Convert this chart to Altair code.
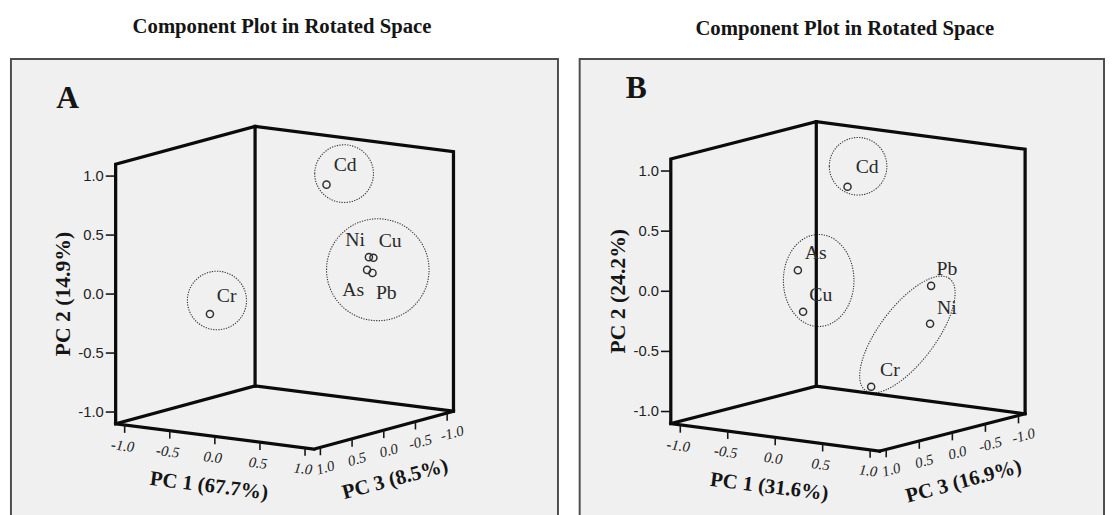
import altair as alt
import pandas as pd

# ---------------- values ----------------
ELEMENTS_A = ["Cd", "Cr", "Ni", "Cu", "As", "Pb"]
PC1_A = [0.50, -0.16, 0.90, 0.95, 0.88, 0.94]
PC2_A = [0.93, -0.10, 0.34, 0.34, 0.23, 0.21]
PC3_A = [0.05, 0.95, -0.05, -0.05, -0.05, -0.05]

ELEMENTS_B = ["Cd", "As", "Cu", "Pb", "Ni", "Cr"]
PC1_B = [0.10, 0.03, 0.05, 0.89, 0.90, 0.60]
PC2_B = [0.86, 0.25, -0.10, 0.10, -0.21, -0.70]
PC3_B = [0.15, 0.80, 0.75, 0.02, 0.05, 0.51]

AXIS_TITLES_A = ["PC 1 (67.7%)", "PC 2 (14.9%)", "PC 3 (8.5%)"]
AXIS_TITLES_B = ["PC 1 (31.6%)", "PC 2 (24.2%)", "PC 3 (16.9%)"]
TICK_VALUES = [-1.0, -0.5, 0.0, 0.5, 1.0]
TICK_LABELS = ["-1.0", "-0.5", "0.0", "0.5", "1.0"]
AXIS_LIMIT = 1.1
TITLE = "Component Plot in Rotated Space"
LETTERS = ["A", "B"]

# ---------------- style / projection settings ----------------
SERIF = "Liberation Serif"
SANS = "Liberation Sans"
INK = "#151515"

PROJ_A = dict(a1=91.5, a3=-64.3, b1=11.65, b2=119.7, b3=17.45,
              width=555, height=466, xdom=[-277.6, 277.4], ydom=[-233.9, 232.1])
PROJ_B = dict(a1=96.3, a3=-67.1, b1=12.7, b2=122.0, b3=17.2,
              width=532, height=466, xdom=[-272.2, 259.8], ydom=[-235.3, 230.7])

# group ellipses (annotation, in plane units): centre x, centre y, semi-major, semi-minor, angle
ELLIPSES_A = [(60.4, 115.8, 29.8, 29.3, 0), (94.6, 18.3, 52.0, 51.7, 0), (-68.6, -12.9, 30.0, 29.7, 0)]
ELLIPSES_B = [(10.3, 121.9, 29.2, 29.2, 0), (-29.7, 6.0, 46.7, 35.8, 90), (60.3, -48.8, 71.0, 28.5, 127)]

LABEL_OFFSETS_A = {"Cd": (19, -20), "Cr": (17, -18), "Ni": (-14, -17), "Cu": (17, -17),
                   "As": (-14, 20), "Pb": (14, 20)}
LABEL_OFFSETS_B = {"Cd": (20, -20), "As": (18, -17), "Cu": (18, -17), "Pb": (16, -17),
                   "Ni": (17, -16), "Cr": (19, -17)}


def ellipse_path(r):
    k = 0.5523
    return (f"M -1 0 C -1 {-k*r:.4f} {-k} {-r:.4f} 0 {-r:.4f} "
            f"C {k} {-r:.4f} 1 {-k*r:.4f} 1 0 "
            f"C 1 {k*r:.4f} {k} {r:.4f} 0 {r:.4f} "
            f"C {-k} {r:.4f} -1 {k*r:.4f} -1 0 Z")


def panel(elements, p1, p2, p3, axis_titles, letter, P, ellipses, offsets,
          title_dx, title_offset, letter_xy):
    xs = alt.Scale(domain=P["xdom"], nice=False, zero=False)
    ys = alt.Scale(domain=P["ydom"], nice=False, zero=False)

    def X(f):
        return alt.X(f"{f}:Q", scale=xs, axis=None)

    def Y(f):
        return alt.Y(f"{f}:Q", scale=ys, axis=None)

    def proj():
        return dict(
            sx=f"{P['a1']}*datum.p1 + ({P['a3']})*datum.p3",
            sy=f"-{P['b1']}*datum.p1 + {P['b2']}*datum.p2 - {P['b3']}*datum.p3",
        )

    c = AXIS_LIMIT
    layers = []

    # dotted group ellipses
    for (ex, ey, a, b, ang) in ellipses:
        layers.append(
            alt.Chart(pd.DataFrame({"sx": [ex], "sy": [ey]})).mark_point(
                shape=ellipse_path(b / a), size=(2 * a) ** 2, angle=ang, filled=False,
                color="#363636", strokeWidth=1.1, strokeDash=[1.3, 1.3], opacity=1,
            ).encode(x=X("sx"), y=Y("sy"))
        )

    # cube frame
    loop = [(c, -c, c), (-c, -c, c), (-c, c, c), (-c, c, -c), (c, c, -c), (c, -c, -c), (c, -c, c)]
    base = [(-c, -c, c), (-c, -c, -c), (c, -c, -c)]
    back = [(-c, -c, -c), (-c, c, -c)]
    rows = []
    for pid, seq in enumerate([loop, base, back]):
        for k, (u, v, w) in enumerate(seq):
            rows.append({"edge": pid, "k": k, "p1": u, "p2": v, "p3": w})
    layers.append(
        alt.Chart(pd.DataFrame(rows)).transform_calculate(**proj()).mark_line(
            color="#0b0b0b", strokeWidth=3.3, strokeJoin="miter", strokeCap="square"
        ).encode(x=X("sx"), y=Y("sy"), detail="edge:N", order="k:Q")
    )

    tick_df = pd.DataFrame({"v": TICK_VALUES, "lab": TICK_LABELS})

    # PC2 axis (left vertical edge)
    t2 = alt.Chart(tick_df).transform_calculate(
        p1=f"{-c}", p2="datum.v", p3=f"{c}"
    ).transform_calculate(**proj()).transform_calculate(
        sx2="datum.sx - 10", lx="datum.sx - 12"
    )
    layers.append(t2.mark_rule(color=INK, strokeWidth=1.6).encode(
        x=X("sx"), x2=alt.X2("sx2"), y=Y("sy")))
    layers.append(t2.mark_text(font=SANS, fontSize=15, align="right", baseline="middle",
                               color="#222222").encode(x=X("lx"), y=Y("sy"), text="lab:N"))

    # PC1 axis (front-left bottom edge)
    t1 = alt.Chart(tick_df).transform_calculate(
        p1="datum.v", p2=f"{-c}", p3=f"{c}"
    ).transform_calculate(**proj()).transform_calculate(
        sy2="datum.sy - 8", lx="datum.sx - 2", ly="datum.sy - 21"
    )
    layers.append(t1.mark_rule(color=INK, strokeWidth=1.6).encode(
        x=X("sx"), y=Y("sy"), y2=alt.Y2("sy2")))
    layers.append(t1.mark_text(font=SERIF, fontStyle="italic", fontSize=15, angle=7,
                               align="center", baseline="middle", color="#222222").encode(
        x=X("lx"), y=Y("ly"), text="lab:N"))

    # PC3 axis (front-right bottom edge)
    t3 = alt.Chart(tick_df).transform_calculate(
        p1=f"{c}", p2=f"{-c}", p3="datum.v"
    ).transform_calculate(**proj()).transform_calculate(
        sy2="datum.sy - 8", lx="datum.sx + 5", ly="datum.sy - 20.5"
    )
    layers.append(t3.mark_rule(color=INK, strokeWidth=1.6).encode(
        x=X("sx"), y=Y("sy"), y2=alt.Y2("sy2")))
    layers.append(t3.mark_text(font=SERIF, fontStyle="italic", fontSize=15, angle=345,
                               align="center", baseline="middle", color="#222222").encode(
        x=X("lx"), y=Y("ly"), text="lab:N"))

    # axis titles
    specs = [
        (axis_titles[0], (0.0, -c, c), (-6, -50.5), 7, 21),
        (axis_titles[1], (-c, 0.0, c), (-53, 0), 270, 22),
        (axis_titles[2], (c, -c, 0.0), (11.5, -50), 345, 21),
    ]
    for (txt, (u, v, w), (ox, oy), ang, fs) in specs:
        layers.append(
            alt.Chart(pd.DataFrame({"t": [txt], "p1": [u], "p2": [v], "p3": [w]}))
            .transform_calculate(**proj())
            .transform_calculate(lx=f"datum.sx + ({ox})", ly=f"datum.sy + ({oy})")
            .mark_text(font=SERIF, fontWeight="bold", fontSize=fs, angle=ang,
                       align="center", baseline="middle", color=INK)
            .encode(x=X("lx"), y=Y("ly"), text="t:N")
        )

    # loadings
    pts = alt.Chart(pd.DataFrame({"element": elements, "p1": p1, "p2": p2, "p3": p3})
                    ).transform_calculate(**proj())
    layers.append(pts.mark_point(shape="circle", size=52, filled=False, color="#2e2e2e",
                                 strokeWidth=1.5, opacity=1).encode(x=X("sx"), y=Y("sy")))
    for el in elements:
        dx, dy = offsets[el]
        layers.append(
            pts.transform_filter(f"datum.element == '{el}'").mark_text(
                font=SERIF, fontSize=20, dx=dx, dy=dy, align="center", baseline="middle",
                color="#2a2a2a"
            ).encode(x=X("sx"), y=Y("sy"), text="element:N")
        )

    # panel letter
    layers.append(
        alt.Chart(pd.DataFrame({"t": [letter]})).mark_text(
            font=SERIF, fontWeight="bold", fontSize=32, align="center", baseline="middle",
            color=INK
        ).encode(x=alt.value(letter_xy[0]), y=alt.value(letter_xy[1]), text="t:N")
    )

    return alt.layer(*layers).properties(
        width=P["width"], height=P["height"],
        title=alt.TitleParams(TITLE, font=SERIF, fontSize=21, fontWeight="bold", color=INK,
                              anchor="middle", dx=title_dx, offset=title_offset,
                              baseline="alphabetic"),
    )


pa = panel(ELEMENTS_A, PC1_A, PC2_A, PC3_A, AXIS_TITLES_A, LETTERS[0], PROJ_A,
           ELLIPSES_A, LABEL_OFFSETS_A, -2.5, 5, (57.6, 39.7))
pb = panel(ELEMENTS_B, PC1_B, PC2_B, PC3_B, AXIS_TITLES_B, LETTERS[1], PROJ_B,
           ELLIPSES_B, LABEL_OFFSETS_B, 3, 3, (57.5, 29.7))

chart = alt.hconcat(pa, pb, spacing=20).properties(
    padding={"left": 2, "top": 4, "right": 0, "bottom": 0},
    background="#ffffff",
).configure_view(fill="#f0f0f0", stroke="#4d4d4d", strokeWidth=2)

chart.save("out.html", embed_options={"renderer": "svg", "actions": False})
